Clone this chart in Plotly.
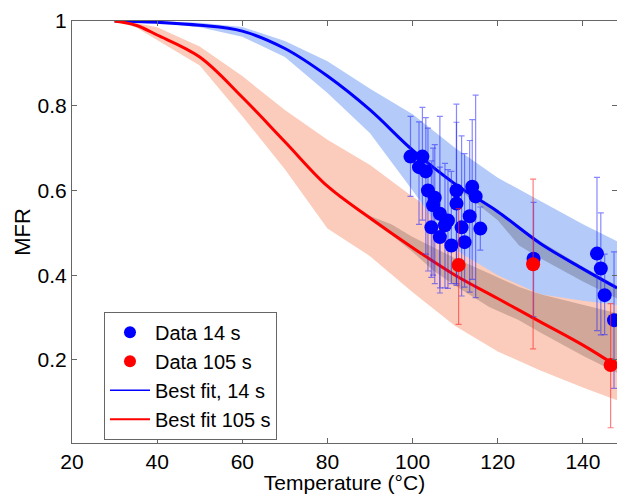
import plotly.graph_objects as go

# ---- fitted curves (temperature grid) ----
fit_x = [30, 35, 40, 50, 60, 70, 80, 90, 100, 110, 120, 130, 140, 148]
fit14 = [1.0, 0.999, 0.997, 0.99, 0.976, 0.935, 0.87, 0.79, 0.695, 0.615, 0.55, 0.475, 0.415, 0.37]
fit14_hi = [1.0, 1.0, 0.999, 0.996, 0.986, 0.953, 0.905, 0.84, 0.78, 0.70, 0.63, 0.575, 0.52, 0.48]
fit14_lo = [1.0, 0.998, 0.995, 0.985, 0.963, 0.915, 0.83, 0.735, 0.60, 0.46, 0.40, 0.355, 0.34, 0.33]
fit105 = [1.0, 0.99, 0.967, 0.915, 0.82, 0.715, 0.61, 0.535, 0.465, 0.40, 0.345, 0.29, 0.235, 0.185]
fit105_hi = [1.0, 0.995, 0.985, 0.94, 0.87, 0.79, 0.72, 0.66, 0.585, 0.52, 0.46, 0.41, 0.37, 0.335]
fit105_lo = [1.0, 0.985, 0.955, 0.895, 0.775, 0.65, 0.51, 0.445, 0.36, 0.28, 0.22, 0.175, 0.135, 0.105]

# narrow confidence bands (darker)
ci105_x = [90, 95, 100, 105, 110, 118, 125, 130, 140, 148]
ci105_hi = [0.54, 0.52, 0.49, 0.465, 0.44, 0.404, 0.372, 0.355, 0.33, 0.31]
ci105_lo = [0.53, 0.495, 0.455, 0.41, 0.375, 0.325, 0.294, 0.265, 0.21, 0.17]
ci14_x = [110, 115, 120, 125, 130, 140, 148]
ci14_hi = [0.62, 0.585, 0.555, 0.515, 0.48, 0.42, 0.375]
ci14_lo = [0.61, 0.57, 0.53, 0.47, 0.44, 0.385, 0.345]

# ---- data 14 s ----
d14_x = [99.5, 102.3, 101.5, 103.1, 103.6, 104.8, 105.2, 106.4, 104.4, 106.4, 107.6, 108.3,
         109.1, 110.3, 110.3, 111.5, 112.2, 113.4, 114.0, 114.8, 115.9, 128.4, 143.3, 144.2,
         145.1, 147.3]
d14_y = [0.68, 0.68, 0.655, 0.645, 0.60, 0.565, 0.583, 0.545, 0.513, 0.49, 0.518, 0.529,
         0.47, 0.60, 0.569, 0.513, 0.478, 0.539, 0.609, 0.586, 0.51, 0.439, 0.451, 0.416,
         0.353, 0.294]
d14_lo = [0.586, 0.53, 0.52, 0.45, 0.41, 0.40, 0.38, 0.37, 0.395, 0.358, 0.37, 0.369,
          0.38, 0.376, 0.38, 0.351, 0.372, 0.36, 0.39, 0.347, 0.459, 0.302, 0.269, 0.259,
          0.26, 0.133]
d14_hi = [0.775, 0.796, 0.762, 0.772, 0.747, 0.70, 0.708, 0.775, 0.67, 0.655, 0.664, 0.649,
          0.645, 0.804, 0.761, 0.729, 0.687, 0.718, 0.767, 0.825, 0.561, 0.572, 0.631, 0.547,
          0.45, 0.455]

# ---- data 105 s ----
d105_x = [110.8, 128.3, 146.5]
d105_y = [0.424, 0.426, 0.188]
d105_lo = [0.284, 0.226, 0.04]
d105_hi = [0.557, 0.627, 0.333]

FONT = "Liberation Sans, Arial, sans-serif"


def band(xs, lo, hi, color):
    return go.Scatter(x=list(xs) + list(xs)[::-1], y=list(hi) + list(lo)[::-1],
                      fill="toself", fillcolor=color, mode="lines",
                      line=dict(width=0), hoverinfo="skip", showlegend=False)


fig = go.Figure()
fig.add_trace(band(fit_x, fit105_lo, fit105_hi, "rgb(251,204,187)"))
fig.add_trace(band(fit_x, fit14_lo, fit14_hi, "rgb(180,202,249)"))
fig.add_trace(band(ci105_x, ci105_lo, ci105_hi, "rgba(80,55,50,0.25)"))
fig.add_trace(band(ci14_x, ci14_lo, ci14_hi, "rgba(60,60,70,0.28)"))

fig.add_trace(go.Scatter(x=fit_x, y=fit14, mode="lines", line=dict(color="#0000ff", width=3),
                         line_shape="spline", showlegend=False))
fig.add_trace(go.Scatter(x=fit_x, y=fit105, mode="lines", line=dict(color="#ff0000", width=3),
                         line_shape="spline", showlegend=False))

fig.add_trace(go.Scatter(
    x=d14_x, y=d14_y, mode="markers", showlegend=False,
    marker=dict(color="#0000ff", size=14),
    error_y=dict(type="data", symmetric=False,
                 array=[h - y for h, y in zip(d14_hi, d14_y)],
                 arrayminus=[y - l for l, y in zip(d14_lo, d14_y)],
                 color="rgba(40,40,255,0.55)", thickness=1.2, width=3)))
fig.add_trace(go.Scatter(
    x=d105_x, y=d105_y, mode="markers", showlegend=False,
    marker=dict(color="#ff0000", size=14),
    error_y=dict(type="data", symmetric=False,
                 array=[h - y for h, y in zip(d105_hi, d105_y)],
                 arrayminus=[y - l for l, y in zip(d105_lo, d105_y)],
                 color="rgba(255,40,40,0.6)", thickness=1.2, width=3)))

# legend-only entries
fig.add_trace(go.Scatter(x=[None], y=[None], mode="markers", name="Data 14 s",
                         marker=dict(color="#0000ff", size=12)))
fig.add_trace(go.Scatter(x=[None], y=[None], mode="markers", name="Data 105 s",
                         marker=dict(color="#ff0000", size=12)))
fig.add_trace(go.Scatter(x=[None], y=[None], mode="lines", name="Best fit, 14 s",
                         line=dict(color="#0000ff", width=1.5)))
fig.add_trace(go.Scatter(x=[None], y=[None], mode="lines", name="Best fit 105 s",
                         line=dict(color="#ff0000", width=2)))

axis_common = dict(showline=True, linecolor="#666666", linewidth=1, mirror="ticks",
                   ticks="inside", ticklen=5, tickcolor="#666666", showgrid=False,
                   zeroline=False, tickfont=dict(family=FONT, size=21, color="black"))

fig.update_layout(
    width=617, height=494,
    margin=dict(l=72, r=0, t=21, b=51),
    plot_bgcolor="white", paper_bgcolor="white",
    font=dict(family=FONT, color="black"),
    xaxis=dict(range=[20, 148], tickvals=[20, 40, 60, 80, 100, 120, 140],
               title=dict(text="Temperature (°C)", font=dict(size=21), standoff=2),
               **axis_common),
    yaxis=dict(range=[0.004, 1], tickvals=[0.2, 0.4, 0.6, 0.8, 1],
               ticktext=["0.2", "0.4", "0.6", "0.8", "1"],
               title=dict(text="MFR", font=dict(size=22), standoff=0),
               **axis_common),
    legend=dict(x=0.0587, y=0.311, xanchor="left", yanchor="top",
                bgcolor="white", bordercolor="#666666", borderwidth=1,
                font=dict(family=FONT, size=20), tracegroupgap=0, itemwidth=40),
)

fig.write_html("out.html")
